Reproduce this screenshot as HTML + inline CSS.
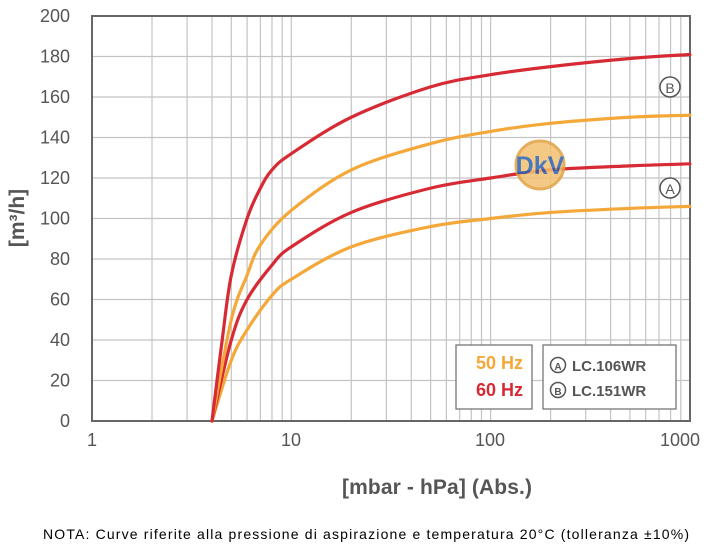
<!DOCTYPE html>
<html><head><meta charset="utf-8"><style>
body{margin:0;background:#fff;width:720px;height:546px;overflow:hidden}
svg text{font-family:"Liberation Sans Narrow","Liberation Sans",sans-serif}
</style></head><body>
<svg id="s" width="720" height="546" viewBox="0 0 720 546">
<g id="grid"></g>
<rect x="92" y="16" width="598" height="405" fill="none" stroke="#666" stroke-width="2"/>
<g id="curves" fill="none" stroke-width="3.2" stroke-linecap="round"></g>
<g font-size="18" fill="#555" text-anchor="end" id="yl"></g>
<g font-size="18" fill="#555" text-anchor="middle">
<text x="92" y="446">1</text><text x="291" y="446">10</text><text x="490" y="446">100</text><text x="680" y="446">1000</text>
</g>
<text x="437" y="494" font-size="21" fill="#555" text-anchor="middle" font-weight="bold" textLength="190">[mbar - hPa] (Abs.)</text>
<text transform="translate(24,218) rotate(-90)" font-size="21" fill="#555" text-anchor="middle" font-weight="bold">[m³/h]</text>
<rect x="456" y="345" width="76" height="64" fill="#fff" stroke="#777" stroke-width="1.3"/>
<rect x="543" y="345" width="133" height="64" fill="#fff" stroke="#777" stroke-width="1.3"/>
<text x="523" y="369" font-size="18" font-weight="bold" fill="#f5a83a" text-anchor="end">50 Hz</text>
<text x="523" y="396" font-size="18" font-weight="bold" fill="#d62a35" text-anchor="end">60 Hz</text>
<g font-size="15" fill="#555" font-weight="bold">
<circle cx="558" cy="365" r="7.5" fill="none" stroke="#555" stroke-width="1.5"/><text x="558" y="370" font-size="10" text-anchor="middle">A</text>
<text x="572" y="371">LC.106WR</text>
<circle cx="558" cy="390" r="7.5" fill="none" stroke="#555" stroke-width="1.5"/><text x="558" y="395" font-size="10" text-anchor="middle">B</text>
<text x="572" y="396">LC.151WR</text>
<circle cx="670" cy="188" r="10" fill="#fff" stroke="#555" stroke-width="1.5"/><text x="670" y="194" font-size="14" font-weight="normal" text-anchor="middle">A</text>
<circle cx="670" cy="87" r="10" fill="#fff" stroke="#555" stroke-width="1.5"/><text x="670" y="93" font-size="14" font-weight="normal" text-anchor="middle">B</text>
</g>
<g opacity="0.85">
<circle cx="540" cy="165" r="24" fill="#f3c070" stroke="#e0a040" stroke-width="3"/>
<text x="540" y="174" font-size="25" font-weight="bold" fill="#2a62b0" text-anchor="middle">DkV</text>
</g>
<text x="366" y="539" font-size="14" fill="#000" text-anchor="middle" font-family="Liberation Sans,sans-serif" textLength="646">NOTA:  Curve riferite alla pressione di aspirazione e temperatura 20°C (tolleranza ±10%)</text>
</svg>
<script>
function X(p){return 92+199.3*Math.log10(p)}
function Y(v){return 421-v*2.025}
var g=document.getElementById('grid'),h='';
for(var d=1;d<1000;d*=10)for(var k=1;k<10;k++){var x=X(d*k);h+='<line x1="'+x+'" y1="16" x2="'+x+'" y2="421" stroke="#c4c4c4" stroke-width="1.2"/>';}
for(var v=20;v<200;v+=20){h+='<line x1="92" y1="'+Y(v)+'" x2="690" y2="'+Y(v)+'" stroke="#c4c4c4" stroke-width="1.2"/>';}
g.innerHTML=h;
var yl='';for(var v=0;v<=200;v+=20)yl+='<text x="70" y="'+(Y(v)+6)+'">'+v+'</text>';
document.getElementById('yl').innerHTML=yl;
var C=[
["#f5a83a",[[4,0],[5,30],[6,45],[8,62],[10,70],[20,86],[50,96],[100,100],[200,103],[500,105],[1000,106]]],
["#d62a35",[[4,0],[5,40],[6,60],[8,77],[10,86],[20,103],[50,115],[100,120],[200,124],[500,126],[1000,127]]],
["#f5a83a",[[4,0],[5,50],[6,72],[7,87],[10,104],[20,124],[50,137],[100,143],[200,147],[500,150],[1000,151]]],
["#d62a35",[[4,0],[4.5,40],[5,72],[6,100],[7,115],[8,124],[10,132],[20,150],[50,165],[100,171],[200,175],[500,179],[1000,181]]]];
var out='';
C.forEach(function(c){var p=c[1].map(function(q){return[X(q[0]),Y(q[1])]});
var d='M'+p[0][0]+','+p[0][1];
for(var i=0;i<p.length-1;i++){var p0=p[i-1]||p[i],p1=p[i],p2=p[i+1],p3=p[i+2]||p2;
d+=' C'+(p1[0]+(p2[0]-p0[0])/6)+','+(p1[1]+(p2[1]-p0[1])/6)+' '+(p2[0]-(p3[0]-p1[0])/6)+','+(p2[1]-(p3[1]-p1[1])/6)+' '+p2[0]+','+p2[1];}
out+='<path d="'+d+'" stroke="'+c[0]+'"/>';});
document.getElementById('curves').innerHTML=out;
</script>
</body></html>
